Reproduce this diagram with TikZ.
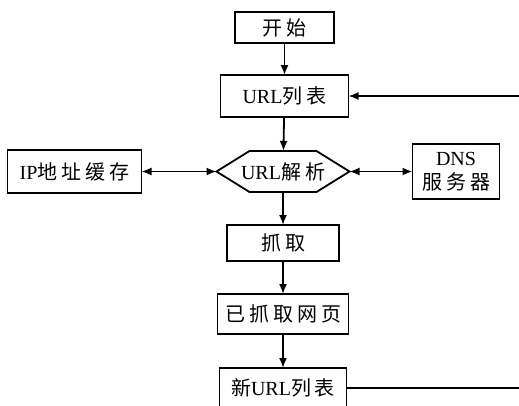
\documentclass[tikz,border=0pt]{standalone}
\usepackage{fontspec}
\setmainfont{Liberation Serif}
\newfontfamily\cjk[LetterSpace=20]{Noto Sans CJK SC}
\usetikzlibrary{arrows.meta, positioning}
\tikzstyle{block} = [draw, fill=white, rectangle, line width=1.8pt, outer sep=0pt]
\tikzstyle{hexbody} = [rectangle, inner sep=0pt, outer sep=0pt]
\newcommand{\zh}[1]{{\cjk #1}}

\begin{document}
\begin{tikzpicture}[auto,>={Latex[length=10pt,width=8pt]},line width=1.8pt,
  font=\fontsize{20pt}{24pt}\selectfont]
  \useasboundingbox (0,0) rectangle (519pt,-405pt);
  \coordinate (edge) at (519pt,0);
  \node[block, minimum width=99pt, minimum height=31pt] (start) at (284.5pt,-27.5pt) {\zh{开始}};
  \node[block, minimum width=128pt, minimum height=42pt, below=32pt of start] (list) {URL\zh{列表}};
  % hexagon: a plain body with two pointed ends
  \node[hexbody, minimum width=67pt, minimum height=41pt, below=34pt of list, xshift=-1.5pt] (parse) {\makebox[0pt]{URL\zh{解析}}};
  \coordinate (parseL) at ([xshift=-33pt]parse.west);
  \coordinate (parseR) at ([xshift=33pt]parse.east);
  \draw (parse.north west) -- (parse.north east) -- (parseR)
    -- (parse.south east) -- (parse.south west) -- (parseL) -- cycle;
  \node[block, minimum width=134pt, minimum height=43pt, left=75pt of parseL] (ipcache) {IP\zh{地址缓存}};
  \node[block, minimum width=87pt, minimum height=55pt, right=63pt of parseR, align=center] (dns) {DNS\\\zh{服务器}};
  \node[block, minimum width=112pt, minimum height=36pt, below=33pt of parse] (fetch) {\zh{抓取}};
  \node[block, minimum width=131pt, minimum height=40pt, below=33pt of fetch] (fetched) {\zh{已抓取网页}};
  \node[block, minimum width=127pt, minimum height=40pt, below=34pt of fetched] (newlist) {\zh{新}URL\zh{列表}};
  % main flow
  \draw[->] (start) -- (list);
  \draw[->] (list) -- (parse);
  \draw[->] (parse) -- (fetch);
  \draw[->] (fetch) -- (fetched);
  \draw[->] (fetched) -- (newlist);
  % lookups on both sides
  \draw[<->] (ipcache) -- (parseL);
  \draw[<->] (parseR) -- (dns);
  % loop back from the new list
  \draw[<-] (list) -- (list -| edge);
  \draw (newlist) -- (newlist -| edge);
\end{tikzpicture}
\end{document}
